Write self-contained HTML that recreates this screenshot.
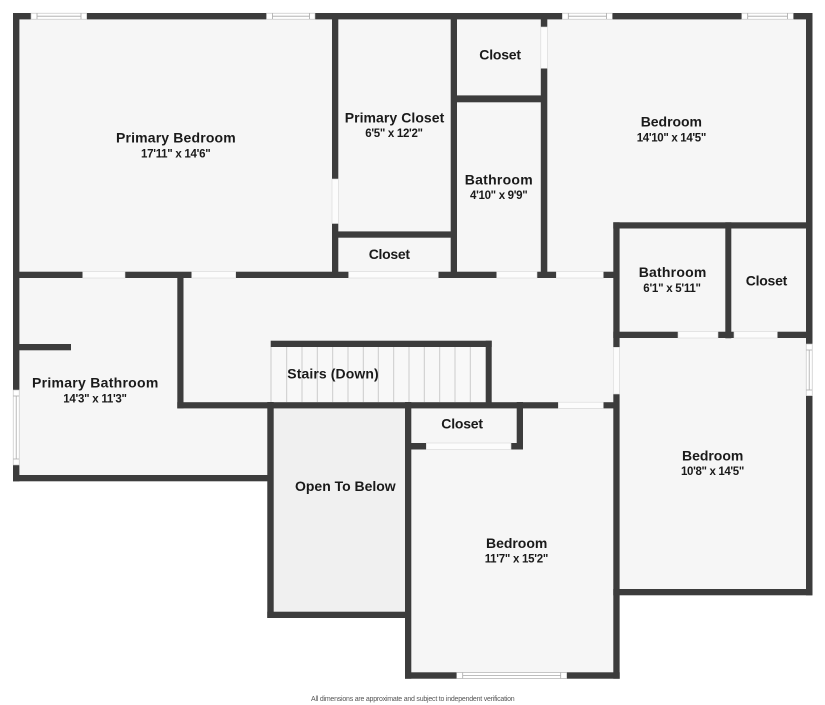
<!DOCTYPE html>
<html><head><meta charset="utf-8"><style>
html,body{margin:0;padding:0;background:#fff;width:825px;height:705px;overflow:hidden}
svg{display:block;filter:blur(.3px)}
text{font-family:"Liberation Sans",sans-serif;fill:#1a1a1a}
.t{font-size:14px;font-weight:700}
.s{font-size:11.5px;font-weight:700}
.w{fill:#3c3c3c}
.d{fill:#fcfcfc;stroke:#d8d8d8;stroke-width:.6}
.l{stroke:#ccc;stroke-width:1;fill:none}
.wl{stroke:#a8a8a8;stroke-width:.8;fill:none}
</style></head><body>
<svg width="825" height="705" viewBox="0 0 825 705" xmlns="http://www.w3.org/2000/svg">
<g fill="#f6f6f6">
<rect x="13" y="13" width="799" height="265"/>
<rect x="13" y="272" width="258" height="209"/>
<rect x="177" y="272" width="442" height="136"/>
<rect x="405" y="402" width="215" height="277"/>
<rect x="613" y="222" width="199" height="373"/>
</g>
<rect x="267" y="402" width="143" height="216" fill="#f0f0f0"/>
<rect x="270.5" y="341" width="221" height="67" fill="#f8f8f8"/>
<g class="l">
<path d="M271 347V402M286.7 347V402M302 347V402M317.3 347V402M332.7 347V402M348 347V402M363.3 347V402M378.3 347V402M393.7 347V402M409 347V402M424.3 347V402M439.7 347V402M455 347V402M470.3 347V402"/>
</g>
<g class="w">
<rect x="13" y="13" width="799.5" height="6.4"/>
<rect x="13" y="13" width="6.4" height="468.3"/>
<rect x="806" y="13" width="6.5" height="582.3"/>
<rect x="332" y="13" width="6.3" height="265"/>
<rect x="450.7" y="13" width="6.3" height="265"/>
<rect x="540.8" y="13" width="6.5" height="265"/>
<rect x="451" y="95.4" width="96" height="6.9"/>
<rect x="338" y="231.4" width="113" height="6.3"/>
<rect x="17" y="271.7" width="600" height="6.3"/>
<rect x="177.3" y="272" width="6.2" height="136.3"/>
<rect x="13" y="344" width="58" height="6.3"/>
<rect x="13" y="475" width="257" height="6.3"/>
<rect x="177.3" y="402.2" width="442" height="6.2"/>
<rect x="267.3" y="402" width="6.4" height="216"/>
<rect x="267.3" y="611.7" width="143" height="6.3"/>
<rect x="405" y="402" width="6.3" height="276.7"/>
<rect x="405" y="672.3" width="214.7" height="6.4"/>
<rect x="613.3" y="222.3" width="6.3" height="456.4"/>
<rect x="613.3" y="222.3" width="199" height="6.2"/>
<rect x="725.3" y="222.3" width="6" height="116"/>
<rect x="613.3" y="331.7" width="199" height="6.3"/>
<rect x="613.3" y="589" width="199" height="6.3"/>
<rect x="270.7" y="340.7" width="221" height="6.3"/>
<rect x="485.7" y="340.7" width="6" height="67"/>
<rect x="405" y="443" width="118" height="6.5"/>
<rect x="516.7" y="402" width="6.3" height="47.5"/>
</g>
<g class="d">
<rect x="332" y="179" width="6.3" height="44.5"/>
<rect x="540.8" y="27" width="6.5" height="41.3"/>
<rect x="82.7" y="271.7" width="42.3" height="6.3"/>
<rect x="191.7" y="271.7" width="44" height="6.3"/>
<rect x="348.6" y="271.7" width="89.7" height="6.3"/>
<rect x="496.7" y="271.7" width="40.3" height="6.3"/>
<rect x="556.3" y="271.7" width="47" height="6.3"/>
<rect x="558.3" y="402.2" width="45" height="6.2"/>
<rect x="613.3" y="347.3" width="6.3" height="46.7"/>
<rect x="678" y="331.7" width="40" height="6.3"/>
<rect x="734" y="331.7" width="43.3" height="6.3"/>
<rect x="426.3" y="443" width="84.7" height="6.5"/>
</g>
<g fill="#fff" stroke="#bdbdbd" stroke-width=".6">
<rect x="31" y="13.2" width="55.7" height="6"/>
<rect x="266.5" y="13.2" width="48.5" height="6"/>
<rect x="562.3" y="13.2" width="50" height="6"/>
<rect x="741.7" y="13.2" width="51.6" height="6"/>
<rect x="13.2" y="390" width="6" height="75"/>
<rect x="806.2" y="344" width="6" height="51.7"/>
<rect x="456.7" y="672.5" width="110" height="6"/>
</g>
<g class="wl">
<path d="M37 13.3V19M81 13.3V19M37 16.2H81"/>
<path d="M272.5 13.3V19M309.5 13.3V19M272.5 16.2H309.5"/>
<path d="M568.3 13.3V19M606.5 13.3V19M568.3 16.2H606.5"/>
<path d="M747.7 13.3V19M787.5 13.3V19M747.7 16.2H787.5"/>
<path d="M13.3 396H19M13.3 459H19M16.2 396V459"/>
<path d="M806.3 350H812M806.3 390H812M809.2 350V390"/>
<path d="M462.7 672.6V678.3M560.7 672.6V678.3M462.7 675.5H560.7"/>
</g>
<text class="t" x="116" y="142.7" textLength="119.7" lengthAdjust="spacing">Primary Bedroom</text>
<text class="s" x="141" y="157.3" textLength="69.7" lengthAdjust="spacing">17'11" x 14'6"</text>
<text class="t" x="344.7" y="122.3" textLength="99.6" lengthAdjust="spacing">Primary Closet</text>
<text class="s" x="365.3" y="137" textLength="57.7" lengthAdjust="spacing">6'5" x 12'2"</text>
<text class="t" x="368.7" y="259" textLength="41.3" lengthAdjust="spacing">Closet</text>
<text class="t" x="479.3" y="59.3" textLength="41.7" lengthAdjust="spacing">Closet</text>
<text class="t" x="640.7" y="126.7" textLength="61.3" lengthAdjust="spacing">Bedroom</text>
<text class="s" x="636.7" y="141.3" textLength="69.6" lengthAdjust="spacing">14'10" x 14'5"</text>
<text class="t" x="464.7" y="184.3" textLength="68" lengthAdjust="spacing">Bathroom</text>
<text class="s" x="470" y="199" textLength="57.7" lengthAdjust="spacing">4'10" x 9'9"</text>
<text class="t" x="638.7" y="277" textLength="67.6" lengthAdjust="spacing">Bathroom</text>
<text class="s" x="643.3" y="292" textLength="57.7" lengthAdjust="spacing">6'1" x 5'11"</text>
<text class="t" x="745.7" y="285.7" textLength="41.6" lengthAdjust="spacing">Closet</text>
<text class="t" x="32" y="387.3" textLength="126.3" lengthAdjust="spacing">Primary Bathroom</text>
<text class="s" x="63.3" y="402.3" textLength="63.7" lengthAdjust="spacing">14'3" x 11'3"</text>
<text class="t" x="287.3" y="378.3" textLength="91.4" lengthAdjust="spacing">Stairs (Down)</text>
<text class="t" x="295" y="491" textLength="100.7" lengthAdjust="spacing">Open To Below</text>
<text class="t" x="441.3" y="428.3" textLength="41.7" lengthAdjust="spacing">Closet</text>
<text class="t" x="682" y="460.3" textLength="61.3" lengthAdjust="spacing">Bedroom</text>
<text class="s" x="681" y="475" textLength="63.3" lengthAdjust="spacing">10'8" x 14'5"</text>
<text class="t" x="486" y="548" textLength="61.3" lengthAdjust="spacing">Bedroom</text>
<text class="s" x="484.7" y="562.7" textLength="63.6" lengthAdjust="spacing">11'7" x 15'2"</text>
<text x="311" y="701" font-size="7" textLength="203.7" lengthAdjust="spacing" style="fill:#555">All dimensions are approximate and subject to independent verification</text>
</svg>
</body></html>
